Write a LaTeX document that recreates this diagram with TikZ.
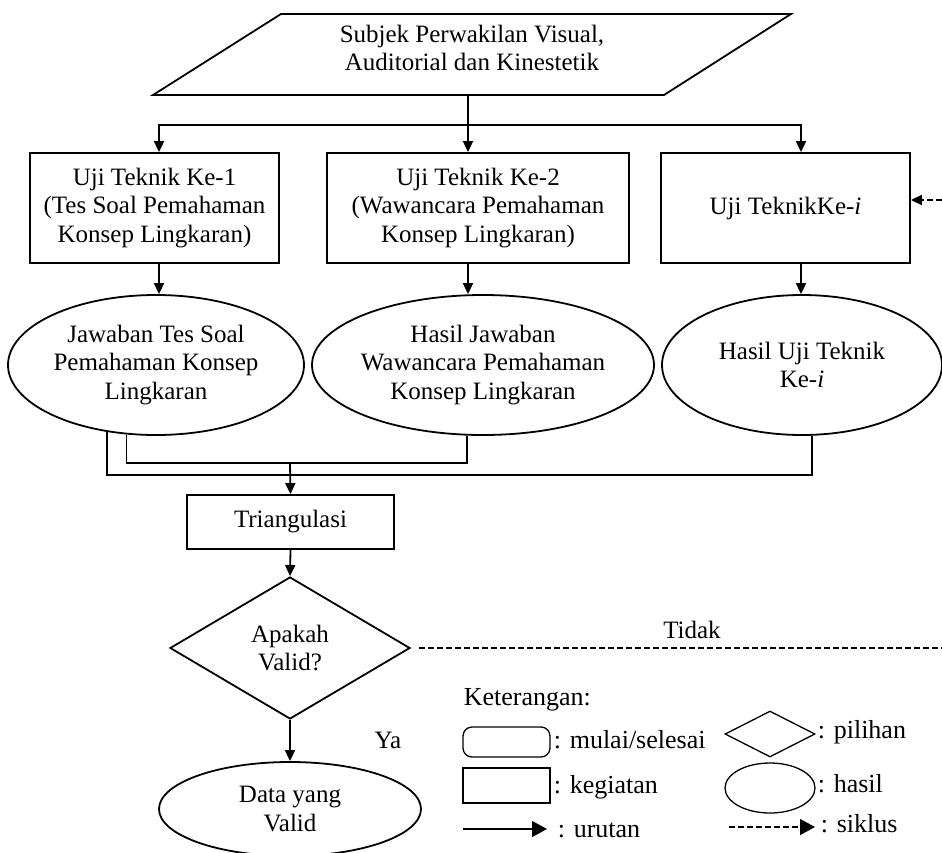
\documentclass[tikz,border=0pt]{standalone}
\usepackage{fontspec}
\setmainfont{Liberation Serif}
\usetikzlibrary{shapes.geometric,arrows.meta,calc}

\begin{document}
\begin{tikzpicture}[x=1pt,y=-1pt,
  line width=1.8pt,
  every node/.style={font=\fontsize{25}{28.5}\selectfont, align=center, inner sep=0pt},
  act/.style={draw, rectangle},
  res/.style={draw, ellipse, inner xsep=-6pt},
  choice/.style={draw, diamond, aspect=1.7},
  flow/.style={-{Triangle[length=11pt,width=10pt]}},
  cyc/.style={dash pattern=on 6pt off 3pt},
  keytxt/.style={font=\fontsize{26}{30}\selectfont, anchor=base west},
  keyline/.style={line width=1.3pt},
  keyflow/.style={keyline, -{Triangle[length=15pt,width=16pt]}},
]
\useasboundingbox[fill=white] (0,0) rectangle (942,852);

% input subjects (parallelogram)
\draw (281,14) -- (791,14) -- (664,95) -- (153,95) -- cycle;
\node (subj) at (472,48) {Subjek Perwakilan Visual,\\Auditorial dan Kinestetik};
\coordinate (subjb) at (468,95);
\coordinate (fan) at (468,125);

% column positions
\coordinate (c1) at (159,0);
\coordinate (c2) at (468,0);
\coordinate (c3) at (801,0);

% test techniques
\node[act, minimum width=249pt, minimum height=110pt] (b1) at (154.5,208)
  {Uji Teknik Ke-1\\(Tes Soal Pemahaman\\Konsep Lingkaran)};
\node[act, minimum width=302pt, minimum height=110pt] (b2) at (478,208)
  {Uji Teknik Ke-2\\(Wawancara Pemahaman\\Konsep Lingkaran)};
\node[act, minimum width=249pt, minimum height=110pt] (b3) at (785.5,208)
  {Uji TeknikKe-\textit{i}};

% results
\node[res, minimum width=296pt, minimum height=140pt] (e1) at (156,365)
  {Jawaban Tes Soal\\Pemahaman Konsep\\Lingkaran};
\node[res, minimum width=342pt, minimum height=140pt] (e2) at (483,365)
  {Hasil Jawaban\\Wawancara Pemahaman\\Konsep Lingkaran};
\node[res, minimum width=280pt, minimum height=140pt] (e3) at (802,365)
  {Hasil Uji Teknik\\Ke-\textit{i}};

% triangulation and decision
\node[act, minimum width=207pt, minimum height=54pt] (tri) at (290.5,522) {Triangulasi};
\node[choice, minimum width=240pt, minimum height=142pt] (dia) at (290,648) {Apakah\\Valid?};
\node[res, minimum width=262pt, minimum height=94pt] (data) at (290,809) {Data yang\\Valid};

\node (ya) at (388,740) {Ya};
\node (tidak) at (692,630) {Tidak};

\coordinate (jn) at (290,463);
\coordinate (jo) at (290,475);
\coordinate (out) at (942,648);
\coordinate (back) at (942,200);

% connectors
\draw (subjb) -- (fan);
\draw[flow] (fan) -| (b1.north -| c1);
\draw[flow] (fan) -- (b2.north -| c2);
\draw[flow] (fan) -| (b3.north -| c3);
\draw[flow] (b1.south -| c1) -- (e1.north -| c1);
\draw[flow] (b2.south -| c2) -- (e2.north -| c2);
\draw[flow] (b3.south -| c3) -- (e3.north -| c3);
\draw (e1.247.8) |- (jn) -| (e2.257.9);
\draw (e1.234) |- (jo) -| (e3.278.2);
\draw[flow] (jn) -- (tri.north);
\draw[flow] (tri.south) -- (dia.north);
\draw[flow] (dia.south) -- (data.north);
\draw[cyc, shorten <=8pt] (dia.east) -- (out);
\draw[cyc, flow] (back) -- (back -| b3.east);

% legend
\node[keytxt] (ket) at (463,705) {Keterangan:};
\node[draw, keyline, rounded corners=9pt, minimum width=87pt, minimum height=30pt] (k1) at (506.5,742) {};
\node[keytxt] (k1t) at (553,748) {: mulai/selesai};
\node[draw, keyline, rectangle, minimum width=87pt, minimum height=35pt] (k2) at (506.5,785.5) {};
\node[keytxt] (k2t) at (553,793) {: kegiatan};
\coordinate (k3a) at (463,829);
\coordinate (k3b) at (547,829);
\draw[keyflow] (k3a) -- (k3b);
\node[keytxt] (k3t) at (557,837) {: urutan};
\node[draw, keyline, diamond, minimum width=90pt, minimum height=46pt] (k4) at (770,734) {};
\node[keytxt] (k4t) at (817,738) {: pilihan};
\node[draw, keyline, ellipse, minimum width=90pt, minimum height=50pt] (k5) at (770,788) {};
\node[keytxt] (k5t) at (817,792) {: hasil};
\coordinate (k6a) at (729,827);
\coordinate (k6b) at (815,827);
\draw[keyflow, dash pattern=on 6pt off 3pt] (k6a) -- (k6b);
\node[keytxt] (k6t) at (820,832) {: siklus};
\end{tikzpicture}
\end{document}
